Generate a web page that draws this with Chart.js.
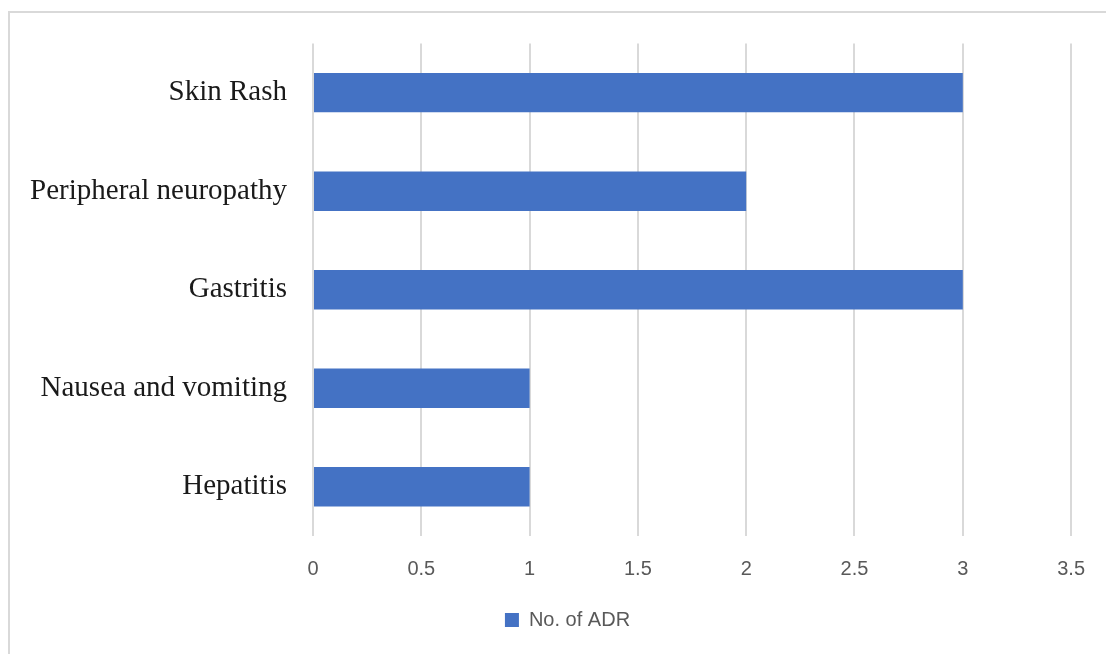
<!DOCTYPE html>
<html>
<head>
<meta charset="utf-8">
<script src="https://cdn.jsdelivr.net/npm/chart.js@4/dist/chart.umd.min.js"></script>
<style>
    body { margin: 0; background: #ffffff; overflow: hidden; }
    #wrap { position: relative; width: 1106px; height: 654px; overflow: hidden; }
    /* moldura cortada: só aparecem as bordas de cima e da esquerda */
    #frame { position: absolute; left: 8px; top: 11px; width: 1200px; height: 800px; border: 2px solid #d9d9d9; }
    canvas { position: absolute; left: 0; top: 0; }
</style>
</head>
<body>
<div id="wrap">
    <div id="frame"></div>
    <canvas id="adrChart" width="1106" height="654"></canvas>
</div>
<script>
// dados do gráfico
const categorias = ['Skin Rash', 'Peripheral neuropathy', 'Gastritis', 'Nausea and vomiting', 'Hepatitis'];
const valores = [3, 2, 3, 1, 1];
const nomeSerie = 'No. of ADR';
const eixoMin = 0;
const eixoMax = 3.5;
const passo = 0.5;

// empurra a legenda um pouco para a direita, como no original
const deslocaLegenda = {
    id: 'deslocaLegenda',
    afterLayout(chart) {
        const lg = chart.legend;
        if (!lg) return;
        lg.left += 29;
        lg.right += 29;
        lg.adjustHitBoxes();
    }
};

const ctx = document.getElementById('adrChart');

new Chart(ctx, {
    type: 'bar',
    data: {
        labels: categorias,
        datasets: [{
            label: nomeSerie,
            data: valores,
            backgroundColor: '#4472C4',
            borderWidth: 0,
            categoryPercentage: 0.8,
            barPercentage: 0.5
        }]
    },
    options: {
        indexAxis: 'y',
        responsive: false,
        animation: false,
        layout: {
            padding: { top: 41, right: 29, bottom: 14, left: 0 }
        },
        plugins: {
            tooltip: { enabled: false },
            legend: {
                position: 'bottom',
                labels: {
                    boxWidth: 14,
                    boxHeight: 14,
                    padding: 8,
                    color: '#595959',
                    font: { family: 'Liberation Sans', size: 20 }
                }
            }
        },
        scales: {
            x: {
                min: eixoMin,
                max: eixoMax,
                ticks: {
                    stepSize: passo,
                    color: '#595959',
                    padding: 21,
                    font: { family: 'Liberation Sans', size: 20 },
                    callback: function(v) { return String(v); } // "1" em vez de "1.0"
                },
                grid: { color: '#d9d9d9', lineWidth: 2, drawTicks: false },
                border: { display: false },
                afterFit: function(scale) { scale.height = 66; }
            },
            y: {
                ticks: {
                    color: '#1a1a1a',
                    padding: 26,
                    font: { family: 'Liberation Serif', size: 29 }
                },
                grid: { display: false, drawTicks: false },
                border: { display: false },
                afterFit: function(scale) { scale.width = 313; }
            }
        }
    },
    plugins: [deslocaLegenda]
});
</script>
</body>
</html>
